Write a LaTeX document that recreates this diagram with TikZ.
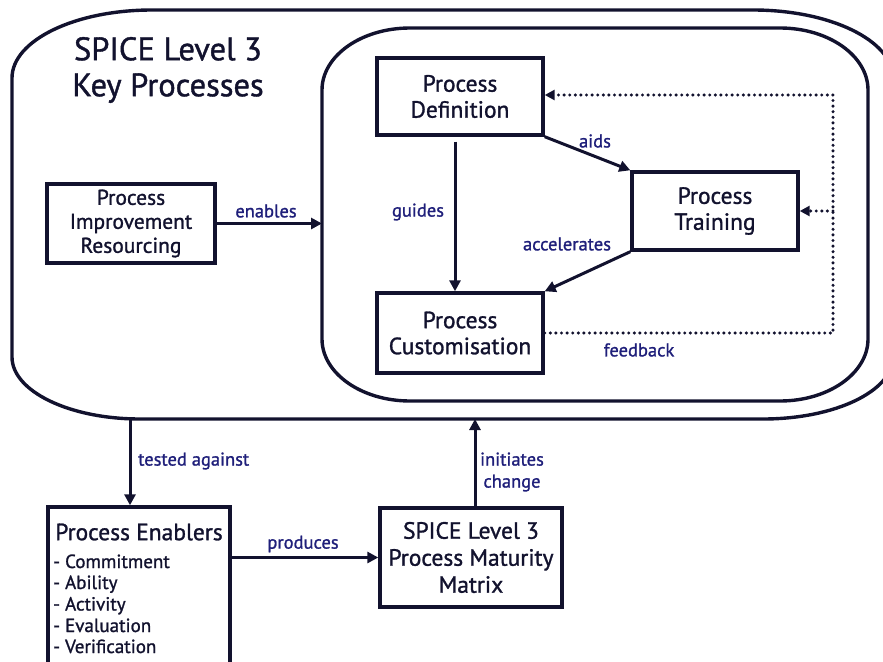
\documentclass[tikz,border=0pt]{standalone}
\usepackage{fontspec}
\setmainfont{PT Sans}[FakeBold=1.2]
\usetikzlibrary{arrows.meta}
\definecolor{ink}{HTML}{12122E}
\definecolor{lbl}{HTML}{1F1F7A}
\begin{document}
\begin{tikzpicture}[x=1pt,y=-1pt,
  box/.style={draw=ink,line width=3.4pt,rectangle,inner sep=0pt,align=center,text=ink},
  boxtxt/.style={font=\fontsize{23.5}{26}\selectfont},
  smalltxt/.style={font=\fontsize{21.5}{24}\selectfont},
  lab/.style={text=lbl,font=\fontsize{18.5}{22}\selectfont,inner sep=0pt},
  conn/.style={draw=ink,line width=3pt,-{Triangle[length=11pt,width=11pt]}},
  fb/.style={draw=ink,line width=3.4pt,line cap=round,dash pattern=on 0pt off 5.6pt,
    -{Triangle[length=10pt,width=10pt,line cap=butt]}},
  frame/.style={draw=ink,line width=3.4pt}]
\useasboundingbox (0,0) rectangle (883,661);
\clip (0,0) rectangle (883,661);

% outer group
\draw[frame] (12,78) .. controls (12,40.5) and (74.7,10) .. (152,10)
  -- (753,10) .. controls (830.3,10) and (893,40.5) .. (893,78)
  -- (893,357) .. controls (893,391.2) and (834.8,419) .. (763,419)
  -- (140,419) .. controls (69.3,419) and (12,391.2) .. (12,357) -- cycle;
% inner group
\draw[frame] (322,90) .. controls (322,55.8) and (361.4,28) .. (410,28)
  -- (780,28) .. controls (828.6,28) and (868,55.8) .. (868,90)
  -- (868,339) .. controls (868,373.2) and (828.6,401) .. (780,401)
  -- (410,401) .. controls (361.4,401) and (322,373.2) .. (322,339) -- cycle;

\node[text=ink,align=center,font=\fontsize{32.5}{36}\selectfont] (title) at (168,70)
  {SPICE Level 3\\Key Processes};

\coordinate (innerL) at (322,223.5);
\coordinate (outB1) at (130,419);
\coordinate (outB2) at (475,419);
\coordinate (fbTop) at (833,95);
\coordinate (fbMid) at (833,211);

\node[box,smalltxt,minimum width=168pt,minimum height=79pt] (pir) at (131,223.5)
  {Process\\Improvement\\Resourcing};
\node[box,boxtxt,minimum width=166pt,minimum height=77pt] (def) at (460,96.5)
  {Process\\Definition};
\node[box,boxtxt,minimum width=166pt,minimum height=78pt] (train) at (715,211)
  {Process\\Training};
\node[box,boxtxt,minimum width=166pt,minimum height=80pt] (cust) at (460,333)
  {Process\\Customisation};
\node[box,minimum width=182pt,minimum height=99pt,font=\fontsize{23.5}{27}\selectfont] (mat) at (471,557.5)
  {SPICE Level 3\\Process Maturity\\Matrix};
\node[box,minimum width=182pt,minimum height=180pt] (enab) at (139,597) {};
\node[text=ink,font=\fontsize{23.5}{26}\selectfont] (enabT) at (139,532) {Process Enablers};
\foreach \t/\y [count=\i] in {Commitment/568,Ability/589,Activity/610.5,Evaluation/632,Verification/653}
  \node[text=ink,font=\fontsize{19}{21}\selectfont,anchor=base west,inner sep=0pt] (enab\i) at (53,\y) {- \t};

% connectors
\draw[conn] (pir.east) -- (innerL);
\draw[conn] ([xshift=-5pt,yshift=-5pt]def.south) -- ([xshift=-5pt]cust.north);
\draw[conn] (def.south east) -- (train.north west);
\draw[conn] (train.south west) -- (cust.north east);
\draw[fb] (cust.east) -- (cust.east -| fbTop) -- (fbTop) -- (def.east |- fbTop);
\draw[fb] (fbMid) -- (train.east |- fbMid);
\draw[conn] (outB1) -- (outB1 |- enab.north);
\draw[conn] (enab.east |- mat.west) -- (mat.west);
\draw[conn] (outB2 |- mat.north) -- (outB2);

% labels
\node[lab] (lEn) at (266,211) {enables};
\node[lab] (lGu) at (418,212) {guides};
\node[lab] (lAi) at (595,141) {aids};
\node[lab] (lAc) at (567,244) {accelerates};
\node[lab] (lFb) at (639,350) {feedback};
\node[lab,anchor=west] (lTe) at (138,461) {tested against};
\node[lab] (lPr) at (303,544) {produces};
\node[lab,align=center] (lIn) at (512,472) {initiates\\change};
\end{tikzpicture}
\end{document}
